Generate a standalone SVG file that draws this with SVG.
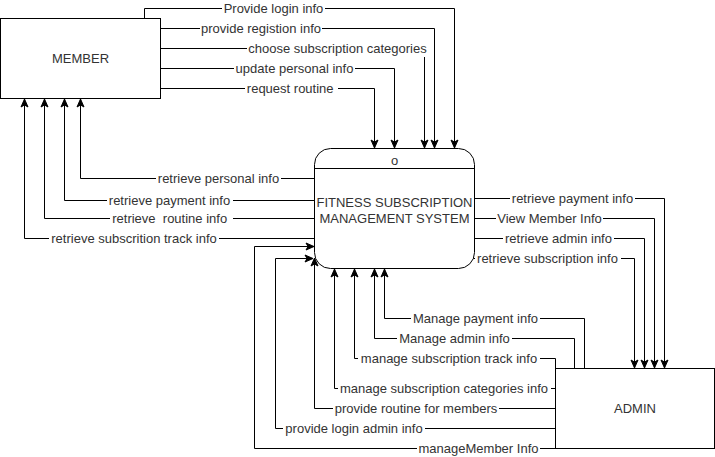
<svg xmlns="http://www.w3.org/2000/svg" width="715" height="457" viewBox="0 0 715 457">
<defs>
<style>
.box{fill:#fff;stroke:#000;stroke-width:1}
.ln{fill:none;stroke:#000;stroke-width:1}
.arr{marker-end:url(#ah)}
.t{font-family:"Liberation Sans",Arial,sans-serif;font-size:13px;fill:#333;text-anchor:middle;white-space:pre}
.bg{fill:#fff}
</style>
<marker id="ah" viewBox="0 0 10 10" refX="9" refY="5" markerWidth="10" markerHeight="10" markerUnits="userSpaceOnUse" orient="auto">
<path d="M1,1.5 L9,5 L1,8.5 L3,5 Z" fill="#000" stroke="#000" stroke-width="1"/>
</marker>
</defs>
<rect width="715" height="457" fill="#fff"/>

<g id="connectors">
<path class="ln arr" d="M144.5,18.5 V8.5 H454.5 V148"/>
<path class="ln arr" d="M160.5,28.5 H434.5 V148"/>
<path class="ln arr" d="M160.5,48.5 H424.5 V148"/>
<path class="ln arr" d="M160.5,68.5 H394.5 V148"/>
<path class="ln arr" d="M160.5,88.5 H374.5 V148"/>
<path class="ln arr" d="M314.5,178.5 H80.5 V99"/>
<path class="ln arr" d="M314.5,200.5 H64.5 V99"/>
<path class="ln arr" d="M314.5,218.5 H44.5 V99"/>
<path class="ln arr" d="M314.5,238.5 H24.5 V99"/>
<path class="ln arr" d="M474.5,198.5 H664.5 V368"/>
<path class="ln arr" d="M474.5,218.5 H654.5 V368"/>
<path class="ln arr" d="M474.5,238.5 H644.5 V368"/>
<path class="ln arr" d="M473,258.5 H634.5 V368"/>
<path class="ln arr" d="M584.5,368.5 V318.5 H384.5 V269"/>
<path class="ln arr" d="M574.5,368.5 V338.5 H374.5 V269"/>
<path class="ln arr" d="M555.5,368.5 V358.5 H354.5 V269"/>
<path class="ln arr" d="M555.5,388.5 H334.5 V269"/>
<path class="ln arr" d="M555.5,408.5 H314.5 V258"/>
<path class="ln arr" d="M555.5,428.5 H275.5 V258.5 H313"/>
<path class="ln arr" d="M555.5,448.5 H254.5 V246.5 H314"/>

<g id="labels">
<rect class="bg" x="222" y="1" width="103" height="15"/><text class="t" x="273.5" y="13">Provide login info</text>
<rect class="bg" x="200" y="21" width="122" height="15"/><text class="t" x="261" y="33">provide registion info</text>
<rect class="bg" x="247" y="41" width="182" height="16"/><text class="t" x="337.5" y="53">choose subscription categories</text>
<rect class="bg" x="234" y="61" width="121" height="15"/><text class="t" x="294.5" y="73">update personal info</text>
<rect class="bg" x="245" y="81" width="93" height="15"/><text class="t" x="292" y="93" xml:space="preserve">request routine </text>
<rect class="bg" x="156" y="171" width="125" height="15"/><text class="t" x="218.5" y="183">retrieve personal info</text>
<rect class="bg" x="107" y="193" width="126" height="15"/><text class="t" x="169.5" y="205">retrieve payment info</text>
<rect class="bg" x="110" y="211" width="123" height="15"/><text class="t" x="171.5" y="223" xml:space="preserve">retrieve  routine info </text>
<rect class="bg" x="49" y="231" width="170" height="15"/><text class="t" x="134" y="243">retrieve subscrition track info</text>
<rect class="bg" x="510" y="191" width="125" height="15"/><text class="t" x="572.5" y="203">retrieve payment info</text>
<rect class="bg" x="496" y="211" width="107" height="15"/><text class="t" x="549.5" y="223">View Member Info</text>
<rect class="bg" x="503" y="231" width="111" height="15"/><text class="t" x="558.5" y="243">retrieve admin info</text>
<rect class="bg" x="475" y="251" width="146" height="15"/><text class="t" x="547.5" y="263">retrieve subscription info</text>
<rect class="bg" x="411" y="311" width="129" height="15"/><text class="t" x="475.5" y="323">Manage payment info</text>
<rect class="bg" x="397" y="331" width="115" height="15"/><text class="t" x="454.5" y="343">Manage admin info</text>
<rect class="bg" x="358" y="351" width="182" height="15"/><text class="t" x="449" y="363">manage subscription track info</text>
<rect class="bg" x="338" y="381" width="213" height="15"/><text class="t" x="444" y="393">manage subscription categories info</text>
<rect class="bg" x="333" y="401" width="166" height="15"/><text class="t" x="416" y="413">provide routine for members</text>
<rect class="bg" x="283" y="421" width="142" height="15"/><text class="t" x="354" y="433">provide login admin info</text>
<rect class="bg" x="417" y="441" width="123" height="15"/><text class="t" x="478.5" y="453">manageMember Info</text>
</g>
</g>

<g id="member">
<rect class="box" x="0.5" y="18.5" width="160" height="80"/>
<text class="t" x="80.5" y="63">MEMBER</text>
</g>

<g id="system">
<rect class="box" x="314.5" y="148.5" width="160" height="120" rx="16" ry="16"/>
<line class="ln" x1="314.5" y1="168.5" x2="474.5" y2="168.5"/>
<text class="t" x="394.5" y="165">o</text>
<text class="t" x="394.5" y="207">FITNESS SUBSCRIPTION</text>
<text class="t" x="394.5" y="223">MANAGEMENT SYSTEM</text>
</g>

<g id="admin">
<rect class="box" x="555.5" y="368.5" width="159" height="80"/>
<text class="t" x="635" y="413">ADMIN</text>
</g>
</svg>
